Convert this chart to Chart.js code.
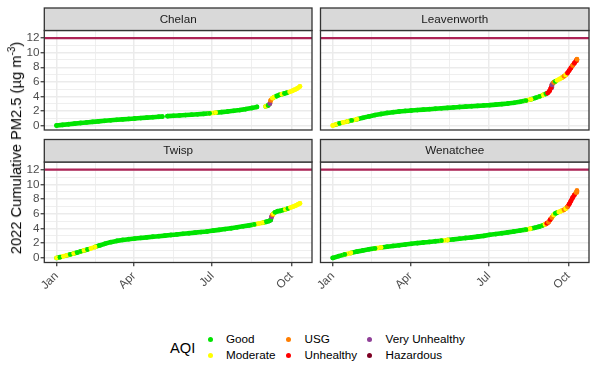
<!DOCTYPE html>
<html>
<head>
<meta charset="utf-8">
<script src="https://cdn.jsdelivr.net/npm/chart.js@4"></script>
<style>
  body { margin: 0; background: #fff; font-family: "Liberation Sans", Arial, sans-serif; }
  #wrap { position: relative; width: 597px; height: 378px; overflow: hidden; }
  canvas { position: absolute; }
  #ytitle { position: absolute; left: 15px; top: 148px; transform: translate(-50%, -50%) rotate(-90deg);
            white-space: nowrap; font-size: 14.7px; color: #000; }
  #ytitle sup { font-size: 10px; }
  .ltitle { position: absolute; font-size: 14.7px; line-height: 16px; color: #000; }
  .ltext { position: absolute; font-size: 11.7px; line-height: 14px; color: #000; white-space: nowrap; }
  .ldot { position: absolute; width: 5px; height: 5px; border-radius: 50%; }
</style>
</head>
<body>
<div id="wrap">
  <canvas id="c-chelan" width="316" height="134" style="left:0;top:0"></canvas>
  <canvas id="c-leaven" width="281" height="134" style="left:316px;top:0"></canvas>
  <canvas id="c-twisp" width="316" height="170" style="left:0;top:134px"></canvas>
  <canvas id="c-wenat" width="281" height="170" style="left:316px;top:134px"></canvas>
  <div id="ytitle">2022 Cumulative PM2.5 (µg m<sup>-3</sup>)</div>
  <div id="legend"></div>
</div>
<script>
// AQI categories: 0 Good, 1 Moderate, 2 USG, 3 Unhealthy, 4 Very Unhealthy, 5 Hazardous
const aqiLabels = ['Good', 'Moderate', 'USG', 'Unhealthy', 'Very Unhealthy', 'Hazardous'];
const aqiColors = ['#00e400', '#ffff00', '#ff7e00', '#ff0000', '#8f3f97', '#7e0023'];

const threshold = 12;

// day of year 2022 (0 = Jan 1)
const monthTicks = [0, 90, 181, 273];
const monthLabels = ['Jan', 'Apr', 'Jul', 'Oct'];
const yTicks = [0, 2, 4, 6, 8, 10, 12];

const chelanDays = [0, 7, 14, 21, 28, 35, 42, 49, 56, 63, 70, 77, 84, 91, 98, 105, 112, 119, 123, 126,
  129, 136, 143, 150, 157, 164, 171, 178, 185, 192, 199, 206, 213, 220, 227, 233, 238,
  243, 246, 248, 249, 251, 253, 256, 259, 262, 265, 268, 271, 274, 277, 280, 283];
const chelanPM = [0, 0.08, 0.17, 0.26, 0.34, 0.42, 0.5, 0.57, 0.64, 0.71, 0.78, 0.84, 0.9, 0.96, 1.02, 1.08, 1.14, 1.2, 1.23, null,
  1.28, 1.33, 1.38, 1.43, 1.48, 1.54, 1.6, 1.67, 1.76, 1.84, 1.92, 2.02, 2.12, 2.25, 2.4, 2.55, null,
  2.62, 2.75, 3.0, 3.45, 3.75, 3.9, 4.05, 4.2, 4.3, 4.4, 4.5, 4.62, 4.75, 4.92, 5.1, 5.36];
const chelanAQI = [0, 0, 0, 0, 0, 0, 0, 0, 0, 0, 0, 0, 0, 0, 0, 0, 0, 0, 0, null,
  0, 0, 0, 0, 0, 0, 0, 0, 1, 0, 0, 0, 0, 0, 0, 0, null,
  1, 0, 4, 2, 1, 1, 0, 0, 1, 0, 0, 1, 1, 1, 1, 1];

const leavenDays = [0, 4, 8, 12, 17, 22, 28, 35, 42, 49, 56, 63, 70, 77, 84, 91, 98, 105, 112, 119, 126, 133,
  140, 147, 154, 161, 168, 175, 182, 189, 196, 203, 210, 217, 224, 230, 235, 240, 244, 247, 249, 251, 253,
  254, 256, 258, 260, 263, 266, 268, 270, 272, 274, 276, 278, 280, 282, 283];
const leavenPM = [0, 0.15, 0.3, 0.42, 0.55, 0.7, 0.87, 1.05, 1.25, 1.43, 1.58, 1.72, 1.83, 1.92, 2.0, 2.06, 2.12, 2.18, 2.24, 2.3, 2.36, 2.42,
  2.48, 2.54, 2.59, 2.64, 2.7, 2.75, 2.8, 2.87, 2.94, 3.02, 3.12, 3.25, 3.42, 3.6, 3.8, 4.0, 4.2, 4.35, 4.45, 4.7, 5.2,
  5.6, 5.9, 6.05, 6.2, 6.4, 6.6, 6.75, 6.95, 7.2, 7.55, 7.9, 8.25, 8.55, 8.9, 9.1];
const leavenAQI = [1, 1, 0, 1, 1, 0, 1, 0, 0, 0, 0, 0, 0, 0, 0, 0, 0, 0, 0, 0, 0, 0,
  0, 0, 0, 0, 0, 0, 0, 0, 0, 0, 0, 0, 0, 1, 0, 0, 1, 0, 3, 3, 3,
  4, 2, 0, 1, 1, 1, 2, 1, 3, 3, 3, 2, 3, 3, 2];

const twispDays = [0, 4, 8, 12, 16, 20, 24, 28, 32, 36, 40, 45, 50, 56, 63, 70, 77, 84, 91, 98, 105, 112, 119,
  126, 133, 140, 147, 154, 161, 168, 175, 182, 189, 196, 203, 210, 217, 224, 230, 235, 240, 244, 247, 249,
  250, 251, 252, 254, 257, 260, 263, 266, 269, 272, 275, 278, 281, 283];
const twispPM = [0, 0.1, 0.22, 0.35, 0.48, 0.6, 0.73, 0.88, 1.02, 1.15, 1.3, 1.5, 1.7, 1.92, 2.15, 2.32, 2.45, 2.55, 2.64, 2.72, 2.8, 2.88, 2.96,
  3.04, 3.12, 3.2, 3.28, 3.36, 3.44, 3.52, 3.6, 3.72, 3.82, 3.93, 4.04, 4.17, 4.3, 4.43, 4.56, 4.68, 4.8, 4.92, 5.02, 5.15,
  5.6, 5.85, 6.0, 6.2, 6.35, 6.4, 6.5, 6.6, 6.72, 6.85, 6.98, 7.12, 7.3, 7.42];
const twispAQI = [1, 0, 1, 1, 0, 1, 0, 0, 1, 0, 1, 1, 0, 0, 0, 0, 0, 0, 0, 0, 0, 0, 0,
  0, 0, 0, 0, 0, 0, 0, 0, 0, 0, 0, 0, 0, 0, 0, 0, 1, 1, 0, 0, 0,
  4, 2, 1, 0, 0, 0, 0, 1, 0, 1, 1, 1, 1, 1];

const wenatDays = [0, 7, 14, 21, 28, 35, 42, 49, 56, 63, 70, 77, 84, 91, 98, 105, 112, 119, 126, 133, 140,
  147, 154, 161, 168, 175, 182, 189, 196, 203, 210, 217, 224, 229, 234, 239, 243, 246, 248, 250, 252, 254,
  256, 258, 260, 262, 265, 268, 270, 272, 274, 276, 278, 280, 282, 283];
const wenatPM = [0, 0.25, 0.48, 0.68, 0.86, 1.02, 1.17, 1.3, 1.42, 1.53, 1.63, 1.72, 1.82, 1.92, 2.02, 2.1, 2.18, 2.27, 2.35, 2.44, 2.53,
  2.62, 2.71, 2.8, 2.9, 3.0, 3.15, 3.25, 3.36, 3.48, 3.6, 3.72, 3.85, 3.97, 4.1, 4.25, 4.4, 4.55, 4.7, 4.85, 5.2, 5.5,
  5.85, 6.05, 6.15, 6.25, 6.4, 6.55, 6.7, 6.95, 7.3, 7.75, 8.2, 8.55, 8.9, 9.15];
const wenatAQI = [0, 0, 0, 1, 0, 0, 0, 0, 1, 0, 0, 0, 0, 0, 0, 0, 0, 0, 0, 1, 0,
  0, 0, 0, 0, 0, 0, 0, 0, 0, 0, 0, 0, 1, 0, 0, 0, 1, 3, 2, 3, 2,
  1, 0, 0, 1, 1, 2, 1, 2, 3, 3, 3, 3, 2, 2];

const X_MIN = -14.2, X_MAX = 297;
const Y_MIN = -0.62, Y_MAX = 13.05;
const FONT = '"Liberation Sans", Arial, sans-serif';

const panelFrame = {
  id: 'panelFrame',
  afterDraw(chart, args, opts) {
    const { ctx, chartArea: a } = chart;
    ctx.save();
    ctx.strokeStyle = '#333333';
    ctx.lineWidth = 1.3;
    ctx.strokeRect(a.left, a.top, a.right - a.left, a.bottom - a.top);
    // facet strip
    const h = 22.5;
    ctx.fillStyle = '#d9d9d9';
    ctx.fillRect(a.left, a.top - h, a.right - a.left, h);
    ctx.strokeRect(a.left, a.top - h, a.right - a.left, h);
    ctx.fillStyle = '#1a1a1a';
    ctx.font = '11.7px ' + FONT;
    ctx.textAlign = 'center';
    ctx.textBaseline = 'middle';
    ctx.fillText(opts.label, (a.left + a.right) / 2, a.top - h / 2 + 0.5);
    ctx.restore();
  }
};

function noPad(s) {
  s.paddingTop = 0; s.paddingBottom = 0; s.paddingLeft = 0; s.paddingRight = 0;
}

function makePanel(id, label, days, pm, aqi, o) {
  const pts = days.map((d, i) => ({ x: d, y: pm[i] }));
  const xMinor = monthTicks.slice(1).map((t, i) => (t + monthTicks[i]) / 2);
  const xAll = monthTicks.concat(xMinor).sort((a, b) => a - b);
  const yAll = [];
  for (let v = 0; v <= 13; v++) yAll.push(v);

  new Chart(document.getElementById(id), {
    type: 'scatter',
    data: {
      datasets: [
        {
          data: [{ x: X_MIN, y: threshold }, { x: X_MAX, y: threshold }],
          showLine: true,
          borderColor: '#ad2356',
          borderWidth: 2.2,
          pointRadius: 0,
        },
        {
          data: pts,
          showLine: true,
          spanGaps: false,
          borderWidth: 4.6,
          borderCapStyle: 'round',
          borderJoinStyle: 'round',
          borderColor: aqiColors[0],
          segment: { borderColor: c => aqiColors[aqi[c.p1DataIndex]] },
          pointRadius: 2.4,
          pointBorderWidth: 0,
          pointBackgroundColor: c => aqiColors[aqi[c.dataIndex]] || aqiColors[0],
        },
      ],
    },
    options: {
      responsive: false,
      animation: false,
      layout: { padding: { left: 0, top: o.top, right: o.right, bottom: 0 } },
      plugins: {
        legend: { display: false },
        tooltip: { enabled: false },
        panelFrame: { label },
      },
      scales: {
        x: {
          type: 'linear',
          min: X_MIN,
          max: X_MAX,
          afterBuildTicks: s => { s.ticks = xAll.map(v => ({ value: v })); },
          afterFit: s => { s.height = o.xHeight; noPad(s); },
          border: { display: false },
          grid: {
            color: '#ebebeb',
            lineWidth: c => (monthTicks.includes(c.tick.value) ? 1.5 : 0.8),
            drawTicks: o.xLabels,
            tickLength: 3.7,
            tickWidth: 1.2,
            tickColor: c => (monthTicks.includes(c.tick.value) ? '#333333' : 'rgba(0,0,0,0)'),
          },
          ticks: {
            display: o.xLabels,
            autoSkip: false,
            maxRotation: 45,
            minRotation: 45,
            padding: 3,
            color: '#4d4d4d',
            font: { family: FONT, size: 11.7 },
            callback: v => {
              const k = monthTicks.indexOf(v);
              return k >= 0 ? monthLabels[k] : '';
            },
          },
        },
        y: {
          min: Y_MIN,
          max: Y_MAX,
          afterBuildTicks: s => { s.ticks = yAll.map(v => ({ value: v })); },
          afterFit: s => { s.width = o.yWidth; noPad(s); },
          border: { display: false },
          grid: {
            color: '#ebebeb',
            lineWidth: c => (yTicks.includes(c.tick.value) ? 1.5 : 0.8),
            drawTicks: o.yLabels,
            tickLength: 3.7,
            tickWidth: 1.2,
            tickColor: c => (yTicks.includes(c.tick.value) ? '#333333' : 'rgba(0,0,0,0)'),
          },
          ticks: {
            display: o.yLabels,
            autoSkip: false,
            padding: 1,
            color: '#4d4d4d',
            font: { family: FONT, size: 11.7 },
            callback: v => (yTicks.includes(v) ? String(v) : ''),
          },
        },
      },
    },
    plugins: [panelFrame],
  });
}

makePanel('c-chelan', 'Chelan', chelanDays, chelanPM, chelanAQI,
  { top: 30.5, right: 3, xHeight: 3.5, yWidth: 44.3, xLabels: false, yLabels: true });
makePanel('c-leaven', 'Leavenworth', leavenDays, leavenPM, leavenAQI,
  { top: 30.5, right: 8, xHeight: 3.5, yWidth: 4.5, xLabels: false, yLabels: false });
makePanel('c-twisp', 'Twisp', twispDays, twispPM, twispAQI,
  { top: 28, right: 3, xHeight: 41.5, yWidth: 44.3, xLabels: true, yLabels: true });
makePanel('c-wenat', 'Wenatchee', wenatDays, wenatPM, wenatAQI,
  { top: 28, right: 8, xHeight: 41.5, yWidth: 4.5, xLabels: true, yLabels: false });

// legend (ggplot-style, bottom)
const legend = document.getElementById('legend');
const colX = [210, 288.5, 369.5];
const rowY = [339, 355.7];
legend.innerHTML = '<div class="ltitle" style="left:170px;top:340px">AQI</div>' +
  aqiLabels.map((lab, i) => {
    const cx = colX[Math.floor(i / 2)], cy = rowY[i % 2];
    return `<span class="ldot" style="left:${cx - 2.5}px;top:${cy - 2.5}px;background:${aqiColors[i]}"></span>` +
      `<div class="ltext" style="left:${cx + 16}px;top:${cy - 7.5}px">${lab}</div>`;
  }).join('');
</script>
</body>
</html>
